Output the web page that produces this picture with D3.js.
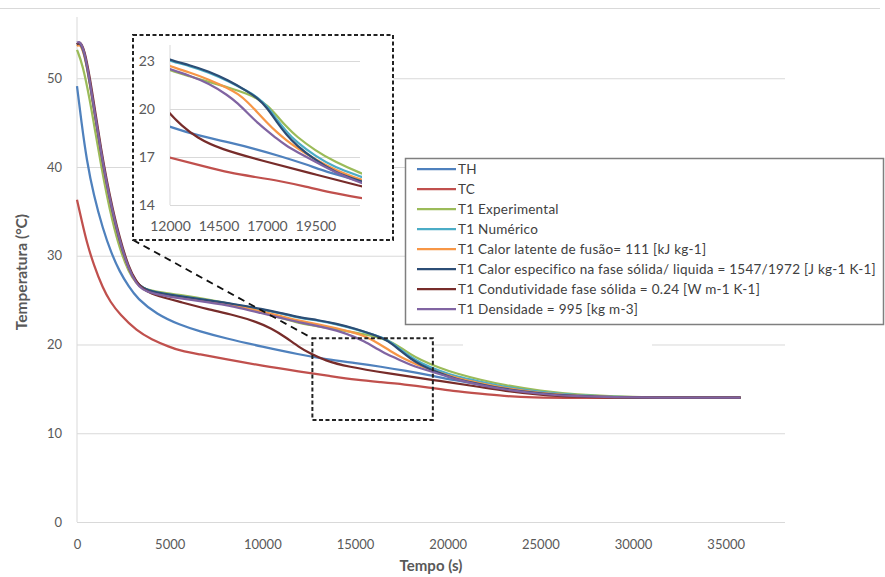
<!DOCTYPE html>
<html><head><meta charset="utf-8">
<script src="https://cdn.jsdelivr.net/npm/d3@7"></script>
<style>
body{margin:0;background:#fff}
text{font-family:Lato,"Open Sans",sans-serif}
</style>
</head><body>
<svg id="c" width="885" height="577"></svg>
<script>
// ---------- DATA ----------
const seriesNames = ["TH","TC","T1 Experimental","T1 Numérico","T1 Calor latente de fusão= 111 [kJ kg-1]","T1 Calor especifico na fase sólida/ liquida = 1547/1972 [J kg-1 K-1]","T1 Condutividade fase sólida = 0.24 [W m-1 K-1]","T1 Densidade = 995 [kg m-3]"];
const seriesColors = ["#4F81BD","#C0504D","#9BBB59","#4BACC6","#F79646","#2C4D75","#772C2A","#8064A2"];

const dataTH = [[0,49.1],[250,44.9],[520,40.8],[900,36.8],[1400,33.0],[1850,30.3],[2300,28.2],[2800,26.5],[3240,25.2],[4300,23.4],[5560,22.2],[6600,21.5],[8000,20.7],[10000,19.75],[12000,18.87],[13400,18.35],[15090,17.9],[16400,17.5],[17670,17.06],[19000,16.55],[20250,16.0],[21800,15.5],[23000,15.05],[25000,14.5],[27500,14.2],[30000,14.05],[32500,14.0],[35800,14.0]];
const dataTC = [[0,36.3],[250,34.0],[540,31.4],[900,29.0],[1400,26.3],[1800,24.8],[2300,23.4],[3240,21.5],[4000,20.6],[5000,19.7],[5560,19.3],[6600,18.9],[8000,18.35],[10000,17.6],[12000,16.96],[13650,16.45],[15090,16.0],[16400,15.75],[17670,15.5],[19000,15.15],[20250,14.78],[21800,14.45],[23000,14.2],[24500,14.02],[27000,13.98],[30000,14.0],[35800,14.0]];
const dataExp = [[0,53.2],[300,51.6],[700,47.5],[1000,43.8],[1300,40.2],[1600,36.9],[1900,34.0],[2300,30.8],[2800,28.1],[3200,26.9],[3600,26.3],[4100,26.0],[5500,25.6],[7000,25.1],[8500,24.5],[10000,23.6],[11000,23.0],[12000,22.38],[13000,22.05],[14000,21.7],[15000,21.35],[16000,20.95],[16500,20.65],[17000,20.25],[17500,19.6],[18000,18.9],[18500,18.3],[19500,17.4],[20500,16.7],[21800,16.0],[23000,15.45],[25000,14.75],[27000,14.35],[29000,14.15],[31000,14.05],[33000,14.0],[35800,14.0]];
const dataNum = [[0,53.8],[150,54.0],[400,52.9],[700,49.4],[1000,45.4],[1300,41.5],[1600,38.0],[1900,35.0],[2300,31.6],[2800,28.4],[3200,27.0],[3500,26.4],[4100,25.9],[5500,25.45],[7000,25.0],[8500,24.5],[10000,23.95],[11000,23.5],[12000,23.0],[13000,22.7],[14000,22.3],[15000,21.75],[16000,21.1],[16500,20.75],[17000,20.2],[17500,19.35],[18000,18.6],[18500,17.95],[19500,17.05],[20500,16.35],[21800,15.8],[23000,15.25],[25000,14.6],[27000,14.25],[29000,14.1],[31000,14.02],[35800,14.0]];
const dataLat = [[0,53.6],[150,53.9],[400,52.8],[700,49.3],[1000,45.3],[1300,41.4],[1600,37.9],[1900,34.9],[2300,31.5],[2800,28.3],[3200,26.9],[3500,26.3],[4100,25.8],[5500,25.3],[7000,24.9],[8500,24.4],[10000,23.7],[11000,23.2],[12000,22.65],[13000,22.3],[14000,21.85],[15000,21.3],[15500,20.95],[16000,20.45],[16500,19.8],[17000,19.15],[17500,18.55],[18000,18.05],[18500,17.6],[19500,16.85],[20500,16.2],[21800,15.6],[23000,15.1],[25000,14.5],[27000,14.2],[29000,14.07],[31000,14.0],[35800,14.0]];
const dataCp = [[0,53.8],[150,54.1],[400,53.0],[700,49.5],[1000,45.5],[1300,41.6],[1600,38.1],[1900,35.1],[2300,31.6],[2800,28.4],[3200,27.0],[3500,26.4],[4100,25.9],[5500,25.45],[7000,25.0],[8500,24.55],[10000,24.0],[11000,23.55],[12000,23.05],[13000,22.75],[14000,22.35],[15000,21.8],[16000,21.1],[16500,20.7],[17000,20.1],[17500,19.2],[18000,18.4],[18500,17.75],[19500,16.8],[20500,16.05],[21800,15.5],[23000,15.0],[25000,14.45],[27000,14.2],[29000,14.07],[31000,14.0],[35800,14.0]];
const dataCond = [[0,53.8],[150,54.2],[400,53.3],[700,50.0],[1000,46.0],[1300,42.0],[1600,38.5],[1900,35.5],[2300,32.0],[2800,28.6],[3200,27.1],[3500,26.3],[4100,25.6],[5560,24.8],[7000,24.0],[8500,23.3],[9700,22.55],[10500,21.8],[11200,20.9],[12000,19.67],[12570,19.0],[13380,18.2],[14580,17.5],[16810,16.75],[19200,16.0],[21800,15.2],[23000,14.8],[25000,14.3],[27000,14.1],[29000,14.02],[31000,14.0],[35800,14.0]];
const dataDens = [[0,54.0],[150,54.2],[400,53.1],[700,49.6],[1000,45.6],[1300,41.7],[1600,38.2],[1900,35.2],[2300,31.7],[2800,28.4],[3200,26.9],[3500,26.2],[4100,25.7],[5500,25.2],[7000,24.8],[8500,24.3],[10000,23.5],[11000,23.0],[12000,22.48],[13000,22.1],[14000,21.6],[15000,20.85],[15500,20.35],[16000,19.75],[16500,19.15],[17000,18.65],[17500,18.15],[18000,17.7],[18500,17.35],[19500,16.7],[20500,16.05],[21800,15.38],[23000,14.95],[25000,14.4],[27000,14.15],[29000,14.05],[31000,14.0],[35800,14.0]];
const allSeries = [dataTH,dataTC,dataExp,dataNum,dataLat,dataCp,dataCond,dataDens];

const xTicks = [0,5000,10000,15000,20000,25000,30000,35000];
const yTicks = [0,10,20,30,40,50];
const insetXTicks = [12000,14500,17000,19500];
const insetYTicks = [14,17,20,23];
const zoomBox = {t0:12700,t1:19200,T0:11.5,T1:20.7};

// ---------- LAYOUT ----------
const svg = d3.select("#c");
const gray = "#d9d9d9", labelCol = "#595959";

svg.append("line").attr("x1",0).attr("x2",880).attr("y1",8.5).attr("y2",8.5).attr("stroke",gray);

const x = d3.scaleLinear().domain([0,38200]).range([77,785]);
const y = d3.scaleLinear().domain([0,56.9]).range([522,17]);

const gy = svg.append("g").attr("transform","translate(77,0)")
  .call(d3.axisLeft(y).tickValues(yTicks).tickSize(-(785-77)).tickPadding(15));
gy.select(".domain").remove();
gy.selectAll("line").attr("stroke",gray).attr("stroke-width",1);
gy.selectAll("text").attr("fill",labelCol).style("font-size","13px");

const gx = svg.append("g").attr("transform","translate(0,522)")
  .call(d3.axisBottom(x).tickValues(xTicks).tickSize(0).tickPadding(18).tickFormat(d3.format("d")));
gx.select(".domain").remove();
gx.selectAll("text").attr("fill",labelCol).style("font-size","13px");

svg.append("line").attr("x1",77).attr("x2",77).attr("y1",17).attr("y2",522).attr("stroke",gray);

svg.append("text").attr("transform","translate(27,272) rotate(-90)").attr("text-anchor","middle")
  .style("font-size","15.5px").style("font-weight","bold").attr("fill",labelCol).text("Temperatura (°C)");
svg.append("text").attr("x",431).attr("y",571).attr("text-anchor","middle")
  .style("font-size","15px").style("font-weight","bold").attr("fill",labelCol).text("Tempo (s)");

// zoom box background (white, hides grid beneath the series) + blank patch over gridline
const zx0 = x(zoomBox.t0), zx1 = x(zoomBox.t1), zy0 = y(zoomBox.T1), zy1 = y(zoomBox.T0);
svg.append("rect").attr("x",zx0).attr("y",zy0).attr("width",zx1-zx0).attr("height",zy1-zy0).attr("fill","#fff");
svg.append("rect").attr("x",463).attr("y",y(20)-5).attr("width",652-463).attr("height",10).attr("fill","#fff");

const line = d3.line().x(d=>x(d[0])).y(d=>y(d[1])).curve(d3.curveBasis);
allSeries.forEach((s,i)=>{
  svg.append("path").attr("d",line(s)).attr("fill","none").attr("stroke",seriesColors[i])
    .attr("stroke-width",2.25).attr("stroke-linejoin","round");
});

svg.append("rect").attr("x",zx0).attr("y",zy0).attr("width",zx1-zx0).attr("height",zy1-zy0)
  .attr("fill","none").attr("stroke","#222").attr("stroke-width",2).attr("stroke-dasharray","4,2.5");

const ib = {x0:133,y0:35,x1:393,y1:240};
svg.append("line").attr("x1",ib.x0).attr("y1",ib.y1).attr("x2",zx0).attr("y2",zy0)
  .attr("stroke","#111").attr("stroke-width",1.8).attr("stroke-dasharray","7,5");
svg.append("rect").attr("x",ib.x0).attr("y",ib.y0).attr("width",ib.x1-ib.x0).attr("height",ib.y1-ib.y0)
  .attr("fill","#fff").attr("stroke","#222").attr("stroke-width",2).attr("stroke-dasharray","4,2.5");

const xi = d3.scaleLinear().domain([12000,21800]).range([170,360]);
const yi = d3.scaleLinear().domain([14,24]).range([205,45]);
const giy = svg.append("g").attr("transform","translate(170,0)")
  .call(d3.axisLeft(yi).tickValues(insetYTicks).tickSize(-(360-170)).tickPadding(15));
giy.select(".domain").remove();
giy.selectAll("line").attr("stroke",gray);
giy.selectAll("text").attr("fill",labelCol).style("font-size","14px");
const gix = svg.append("g").attr("transform","translate(0,205)")
  .call(d3.axisBottom(xi).tickValues(insetXTicks).tickSize(0).tickPadding(16).tickFormat(d3.format("d")));
gix.select(".domain").remove();
gix.selectAll("text").attr("fill",labelCol).style("font-size","14px");
svg.append("line").attr("x1",170).attr("x2",170).attr("y1",45).attr("y2",205).attr("stroke",gray);

svg.append("clipPath").attr("id","ic").append("rect").attr("x",170).attr("y",40).attr("width",192).attr("height",168);
const lineI = d3.line().x(d=>xi(d[0])).y(d=>yi(d[1])).curve(d3.curveBasis);
const ig = svg.append("g").attr("clip-path","url(#ic)");
allSeries.forEach((s,i)=>{
  ig.append("path").attr("d",lineI(s)).attr("fill","none").attr("stroke",seriesColors[i])
    .attr("stroke-width",2.25).attr("stroke-linejoin","round");
});

const lg = svg.append("g");
lg.append("rect").attr("x",405.5).attr("y",158.5).attr("width",478).attr("height",166)
  .attr("fill","#fff").attr("stroke","#7f7f7f").attr("stroke-width",1.5);
seriesNames.forEach((n,i)=>{
  const yy = 169 + i*20;
  lg.append("line").attr("x1",417).attr("x2",456).attr("y1",yy).attr("y2",yy)
    .attr("stroke",seriesColors[i]).attr("stroke-width",2.25);
  lg.append("text").attr("x",458).attr("y",yy+4.5).style("font-size","13.5px")
    .style("letter-spacing","0.25px").attr("fill","#404040").text(n);
});
</script>
</body></html>
